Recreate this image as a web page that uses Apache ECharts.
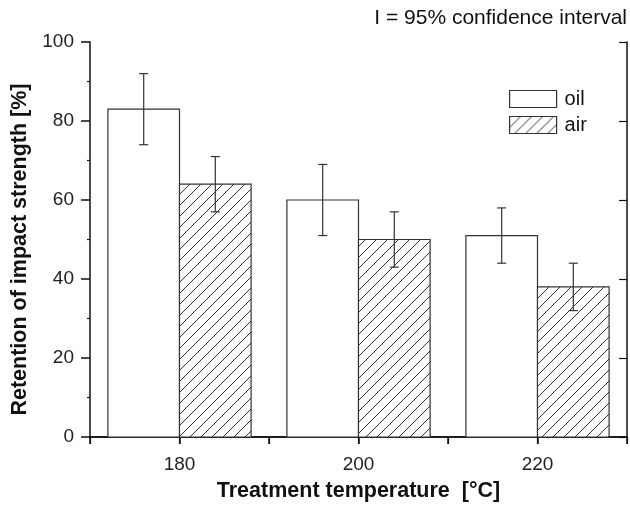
<!DOCTYPE html>
<html>
<head>
    <meta charset="utf-8">
    <title>Retention of impact strength</title>
    <script src="https://cdn.jsdelivr.net/npm/echarts@6/dist/echarts.min.js"></script>
    <style>
        html, body { margin: 0; padding: 0; background: #fff; }
        #chart { width: 630px; height: 507px; }
    </style>
</head>
<body>
<div id="chart"></div>
<script>
    // data
    var temps = [180, 200, 220];
    var xTickLabels = [180, 200, 220];
    var oilVals = [83, 60, 51];
    var oilLow = [74, 51, 44];
    var oilHigh = [92, 69, 58];
    var airVals = [64, 50, 38];
    var airLow = [57, 43, 32];
    var airHigh = [71, 57, 44];

    // hatch pattern for the "air" bars
    function makeHatch() {
        var s = 11;
        var c = document.createElement('canvas');
        c.width = s; c.height = s;
        var ctx = c.getContext('2d');
        ctx.fillStyle = '#fff';
        ctx.fillRect(0, 0, s, s);
        ctx.strokeStyle = '#333';
        ctx.lineWidth = 1;
        ctx.beginPath();
        ctx.moveTo(-1, s + 1); ctx.lineTo(s + 1, -1);
        ctx.moveTo(-2, 1); ctx.lineTo(1, -2);
        ctx.moveTo(s - 1, s + 2); ctx.lineTo(s + 2, s - 1);
        ctx.stroke();
        return { image: c, repeat: 'repeat' };
    }
    var hatch = makeHatch();

    function buildData(vals, lo, hi, offset) {
        var out = [];
        for (var i = 0; i < temps.length; i++) {
            out.push([temps[i] + offset, vals[i], lo[i], hi[i]]);
        }
        return out;
    }

    function barRenderer(fill) {
        return function (params, api) {
            var x = api.value(0);
            var tl = api.coord([x - 4, api.value(1)]);
            var br = api.coord([x + 4, 0]);
            var c = api.coord([x, api.value(1)]);
            var lo = api.coord([x, api.value(2)]);
            var hi = api.coord([x, api.value(3)]);
            var cap = 4.5;
            var errStyle = { stroke: '#333', lineWidth: 1.2 };
            return {
                type: 'group',
                children: [
                    { type: 'rect', shape: { x: tl[0], y: tl[1], width: br[0] - tl[0], height: br[1] - tl[1] },
                      style: { fill: fill, stroke: '#333', lineWidth: 1.2 } },
                    { type: 'line', shape: { x1: c[0], y1: lo[1], x2: c[0], y2: hi[1] }, style: errStyle },
                    { type: 'line', shape: { x1: c[0] - cap, y1: lo[1], x2: c[0] + cap, y2: lo[1] }, style: errStyle },
                    { type: 'line', shape: { x1: c[0] - cap, y1: hi[1], x2: c[0] + cap, y2: hi[1] }, style: errStyle }
                ]
            };
        };
    }

    var font = 'Liberation Sans, Arial, Helvetica, sans-serif';
    var chart = echarts.init(document.getElementById('chart'));
    var option = {
        animation: false,
        backgroundColor: '#fff',
        title: {
            text: 'I = 95% confidence interval',
            right: -2,
            top: 3,
            textStyle: { fontFamily: font, fontSize: 21, fontWeight: 'normal', color: '#111' }
        },
        legend: {
            orient: 'vertical',
            left: 509,
            top: 89,
            padding: 0,
            itemWidth: 47,
            itemHeight: 17,
            itemGap: 6,
            icon: 'rect',
            textStyle: { fontFamily: font, fontSize: 20, color: '#111', padding: [0, 0, 0, 3] },
            data: [
                { name: 'oil', itemStyle: { color: '#fff', borderColor: '#333', borderWidth: 1.2 } },
                { name: 'air', itemStyle: { color: hatch, borderColor: '#333', borderWidth: 1.2 } }
            ]
        },
        grid: { left: 90, right: 2, top: 42, bottom: 69 },
        xAxis: [{
            type: 'value',
            position: 'bottom',
            min: 170, max: 230, interval: 10,
            name: 'Treatment temperature  [°C]',
            nameLocation: 'middle',
            nameGap: 43,
            nameTextStyle: { fontFamily: font, fontSize: 21.5, fontWeight: 'bold', color: '#111' },
            axisLine: { show: true, lineStyle: { color: '#111', width: 1.5 } },
            axisTick: { show: true, length: 7, lineStyle: { color: '#111', width: 1.5 } },
            axisLabel: {
                margin: 18, fontFamily: font, fontSize: 19, color: '#222',
                formatter: function (v) { return xTickLabels.indexOf(v) >= 0 ? String(v) : ''; }
            },
            splitLine: { show: false }
        }, {
            type: 'value',
            position: 'top',
            min: 170, max: 230, interval: 10,
            axisLine: { show: true, lineStyle: { color: '#111', width: 1.5 } },
            axisTick: { show: true, inside: true, length: 7, lineStyle: { color: '#111', width: 1.2 } },
            axisLabel: { show: false },
            splitLine: { show: false }
        }],
        yAxis: [{
            type: 'value',
            position: 'left',
            min: 0, max: 100, interval: 20,
            name: 'Retention of impact strength [%]',
            nameLocation: 'middle',
            nameGap: 58,
            nameTextStyle: { fontFamily: font, fontSize: 21.5, fontWeight: 'bold', color: '#111', padding: [0, 20, 0, 0] },
            axisLine: { show: true, lineStyle: { color: '#111', width: 1.5 } },
            axisTick: { show: true, length: 9, lineStyle: { color: '#111', width: 1.5 } },
            minorTick: { show: true, splitNumber: 2, length: 3, lineStyle: { color: '#111', width: 1.2 } },
            axisLabel: { margin: 16, fontFamily: font, fontSize: 19, color: '#222' },
            splitLine: { show: false }
        }, {
            type: 'value',
            position: 'right',
            min: 0, max: 100, interval: 20,
            axisLine: { show: true, lineStyle: { color: '#111', width: 1.5 } },
            axisTick: { show: true, inside: true, length: 8, lineStyle: { color: '#111', width: 1.2 } },
            axisLabel: { show: false },
            splitLine: { show: false }
        }],
        series: [{
            name: 'oil',
            type: 'custom',
            renderItem: barRenderer('#fff'),
            encode: { x: 0, y: [1, 2, 3] },
            data: buildData(oilVals, oilLow, oilHigh, -4)
        }, {
            name: 'air',
            type: 'custom',
            renderItem: barRenderer(hatch),
            encode: { x: 0, y: [1, 2, 3] },
            data: buildData(airVals, airLow, airHigh, 4)
        }]
    };
    chart.setOption(option);
</script>
</body>
</html>
